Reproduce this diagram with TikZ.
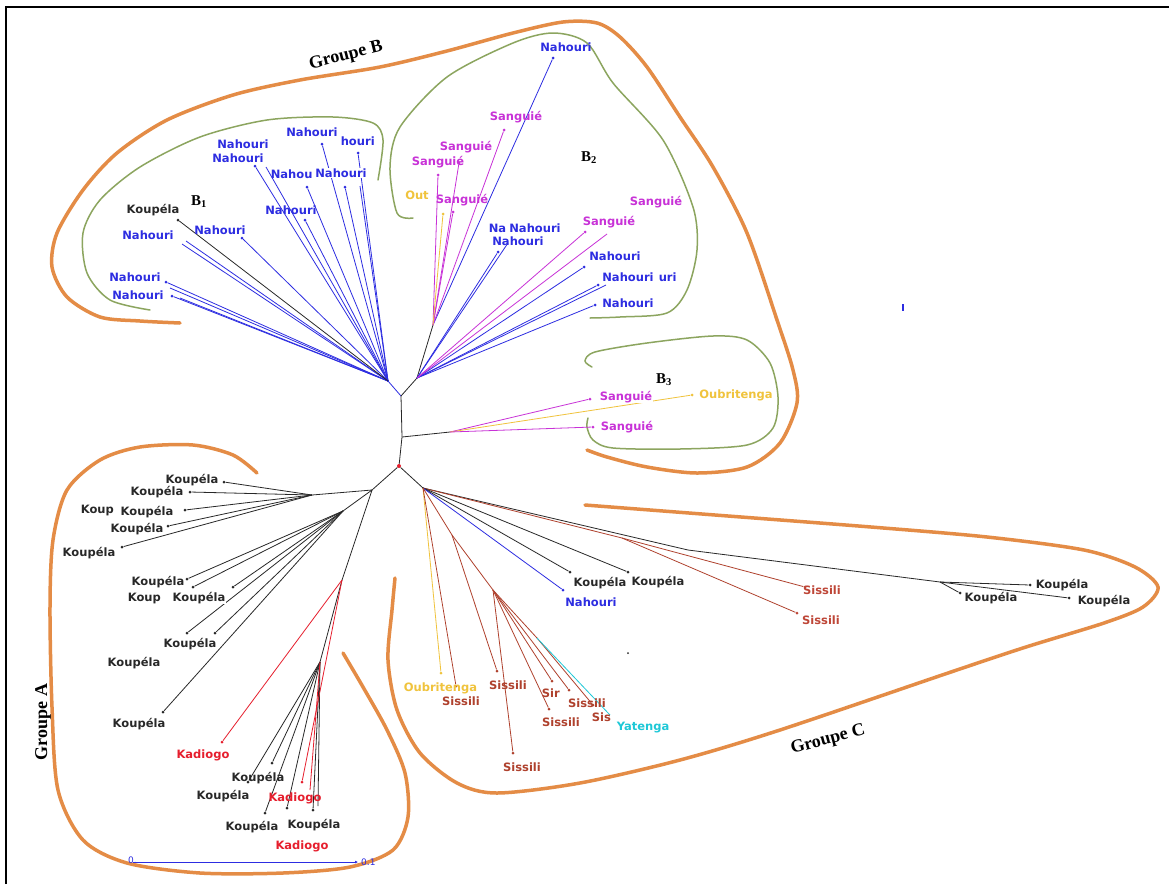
\documentclass[tikz,border=0pt]{standalone}
\usepackage{fontspec}
\setmainfont{Liberation Serif}
\newfontfamily\labfam{DejaVu Sans}
\usetikzlibrary{arrows.meta}
\definecolor{cBlue}{RGB}{45,45,225}
\definecolor{cPink}{RGB}{200,50,215}
\definecolor{cYel}{RGB}{240,195,60}
\definecolor{cRed}{RGB}{230,30,45}
\definecolor{cBrown}{RGB}{175,65,45}
\definecolor{cSis}{RGB}{190,70,55}
\definecolor{cCyan}{RGB}{30,200,215}
\definecolor{cOrange}{RGB}{228,140,70}
\definecolor{cGreen}{RGB}{140,165,95}
\definecolor{cGrey}{RGB}{40,40,40}
\tikzset{
  lab/.style={font=\labfam\bfseries\fontsize{11.5}{12}\selectfont, inner sep=0.6pt},
  wlab/.style={lab, fill=white},
  blab/.style={font=\bfseries\fontsize{15}{16}\selectfont, inner sep=0pt},
  glab/.style={font=\bfseries\fontsize{18}{19}\selectfont, inner sep=0pt},
  br/.style={line width=0.8pt},
  kbr/.style={br, draw=cGrey},
  bbr/.style={br, draw=cBlue},
  pbr/.style={br, draw=cPink},
  ybr/.style={br, draw=cYel},
  rbr/.style={br, draw=cRed},
  sbr/.style={br, draw=cBrown},
  cbr/.style={br, draw=cCyan},
  dot/.style={circle, fill, inner sep=0pt, minimum size=3pt},
  orng/.style={draw=cOrange, line width=3.5pt, line cap=round},
  grn/.style={draw=cGreen, line width=1.5pt, line cap=round},
  sblab/.style={font=\labfam\fontsize{9}{9}\selectfont, text=cBlue, anchor=west, inner sep=0pt},
}
\begin{document}
\begin{tikzpicture}[x=1pt,y=-1pt]
\useasboundingbox (0,0) rectangle (1169,884);
\fill[white] (0,0) rectangle (1169,884);
\draw[line width=2pt] (6,884) -- (6,7) -- (1169,7);

% ---------- outlines ----------
\draw[orng] plot[smooth] coordinates {(180,323) (140,321) (100,317) (67,297) (52,267) (57,233) (83,190) (117,153) (167,120) (233,95) (300,80) (380,67) (447,51) (513,33) (563,22) (597,23) (620,37) (647,67) (680,117) (713,167) (747,233) (777,320) (793,370) (797,403) (780,443) (747,467) (697,473) (647,467) (607,457) (587,450)};
\draw[orng] plot[smooth] coordinates {(257,473) (233,455) (193,445) (140,447) (100,460) (67,490) (53,540) (50,607) (52,707) (58,790) (83,840) (127,863) (200,873) (283,873) (350,867) (393,850) (408,817) (405,773) (387,730) (363,687) (343,653)};
\draw[orng] plot[smooth] coordinates {(585,505) (715,515) (871,527) (987,537) (1084,550) (1135,567) (1158,587) (1143,607) (1104,623) (1026,647) (948,673) (780,730) (680,760) (580,783) (497,793) (457,783) (420,753) (397,710) (388,660) (392,610) (395,578)};
\draw[grn] plot[smooth] coordinates {(150,310) (110,300) (87,273) (83,233) (100,200) (140,167) (200,137) (267,120) (333,117) (373,123) (383,140) (378,180)};
\draw[grn] plot[smooth] coordinates {(413,218) (397,213) (390,167) (400,127) (447,77) (513,43) (553,33) (587,43) (613,83) (663,140) (693,207) (697,250) (687,290) (667,313) (620,317) (590,318)};
\draw[grn] plot[smooth] coordinates {(592,367) (585,361) (595,352) (647,343) (713,336) (747,340) (770,363) (778,397) (773,428) (747,445) (680,449) (613,448) (593,440) (587,427) (588,418)};

% ---------- internal nodes ----------
\node[dot,cRed,minimum size=4pt] (root) at (399,466) {};
\coordinate (j1) at (401,396);
\coordinate (j3) at (402,437);
\coordinate (hA) at (372,490);
\coordinate (hC) at (423,488);
\coordinate (hB1) at (388,381);
\coordinate (hB2) at (417,378);
\coordinate (hB2a) at (433,325);
\coordinate (hB3) at (450,432);
\coordinate (hA1) at (312,495);
\coordinate (hA2) at (343,511);
\coordinate (hA3) at (342,580);
\coordinate (hA4) at (320,662);
\coordinate (hC1) at (688,550);
\coordinate (hC2) at (940,582);
\coordinate (hC3) at (622,538);
\coordinate (hC4) at (452,535);
\coordinate (hC5) at (493,590);
\coordinate (hC6) at (537,638);

% ---------- leaves B1 ----------
\node[dot,cBlue] (n1) at (255,166) {};
\coordinate (n2) at (266,167);
\node[dot,cBlue] (n3) at (322,144) {};
\node[dot,cBlue] (n4) at (358,153) {};
\node[dot,cBlue] (n5) at (307,187) {};
\node[dot,cBlue] (n6) at (345,187) {};
\coordinate (n7) at (360,186);
\node[dot,cBlue] (n8) at (305,220) {};
\node[dot,cBlue] (n9) at (242,238) {};
\coordinate (n10) at (182,244);
\coordinate (n10b) at (186,241);
\node[dot,cBlue] (n11) at (166,282) {};
\coordinate (n12) at (170,288);
\node[dot,cBlue] (n13) at (172,296) {};
\coordinate (n14) at (180,298);
\node[dot,cGrey] (k1) at (178,220) {};
% ---------- leaves B2 ----------
\node[dot,cBlue] (t1) at (553,58) {};
\node[dot,cPink] (s1) at (504,130) {};
\node[dot,cPink] (s2) at (459,163) {};
\node[dot,cPink] (s3) at (438,175) {};
\node[dot,cYel] (o1) at (443,214) {};
\node[dot,cPink] (s4) at (453,212) {};
\node[dot,cBlue] (m1) at (498,252) {};
\coordinate (m2) at (508,243);
\node[dot,cPink] (s5) at (585,232) {};
\coordinate (s6) at (607,234);
\node[dot,cBlue] (m3) at (584,267) {};
\node[dot,cBlue] (m4) at (598,285) {};
\coordinate (m5) at (606,285);
\node[dot,cBlue] (m6) at (595,305) {};
% ---------- leaves B3 ----------
\node[dot,cPink] (s7) at (590,399) {};
\node[dot,cYel] (oub) at (692,395) {};
\node[dot,cPink] (s8) at (593,427) {};
% ---------- leaves A ----------
\node[dot,cGrey] (a1) at (224,482) {};
\node[dot,cGrey] (a2) at (190,492) {};
\node[dot,cGrey] (a3) at (185,510) {};
\node[dot,cGrey] (a4) at (168,526) {};
\node[dot,cGrey] (a5) at (122,547) {};
\node[dot,cGrey] (a6) at (187,579) {};
\node[dot,cGrey] (a7) at (193,587) {};
\node[dot,cGrey] (a8) at (233,587) {};
\node[dot,cGrey] (a9) at (187,633) {};
\node[dot,cGrey] (a10) at (215,633) {};
\node[dot,cGrey] (a11) at (163,712) {};
\node[dot,cGrey] (a12) at (272,763) {};
\node[dot,cGrey] (a13) at (248,782) {};
\node[dot,cGrey] (a14) at (265,813) {};
\node[dot,cGrey] (a15) at (287,808) {};
\node[dot,cGrey] (a16) at (313,810) {};
\coordinate (a17) at (318,806);
\node[dot,cRed] (kad1) at (222,742) {};
\node[dot,cRed] (kad2) at (302,782) {};
\coordinate (kad3) at (310,790);
% ---------- leaves C ----------
\node[dot,cGrey] (c1) at (1030,585) {};
\node[dot,cGrey] (c2) at (960,593) {};
\node[dot,cGrey] (c3) at (1069,598) {};
\node[dot,cSis] (si1) at (805,587) {};
\node[dot,cSis] (si2) at (797,613) {};
\node[dot,cGrey] (kc1) at (570,572) {};
\node[dot,cGrey] (kc2) at (628,572) {};
\node[dot,cBlue] (nh) at (563,590) {};
\node[dot,cYel] (ob) at (441,673) {};
\node[dot,cBrown] (si3) at (456,686) {};
\node[dot,cBrown] (si4) at (497,671) {};
\node[dot,cBrown] (si5) at (513,753) {};
\node[dot,cBrown] (si6) at (552,681) {};
\node[dot,cBrown] (si7) at (569,690) {};
\node[dot,cBrown] (si8) at (549,709) {};
\node[dot,cBrown] (si9) at (593,705) {};
\coordinate (yat) at (610,715);

% ---------- branches ----------
\draw[kbr] (j1) -- (j3) -- (root);
\draw[kbr] (root) -- (hA);
\draw[kbr] (root) -- (hC);
\draw[bbr] (j1) -- (hB1);
\foreach \t in {n1,n2,n3,n4,n5,n6,n7,n8,n9,n10,n10b,n11,n12,n13,n14} \draw[bbr] (hB1) -- (\t);
\draw[kbr] (hB1) -- (k1);
\draw[kbr] (j1) -- (hB2) -- (hB2a);
\draw[bbr] (hB2a) -- (t1);
\foreach \t in {s1,s2,s3,s4} \draw[pbr] (hB2a) -- (\t);
\draw[ybr] (hB2a) -- (o1);
\foreach \t in {m1,m2,m3,m4,m5,m6} \draw[bbr] (hB2) -- (\t);
\foreach \t in {s5,s6} \draw[pbr] (hB2) -- (\t);
\draw[kbr] (j3) -- (hB3);
\draw[pbr] (hB3) -- (s7);
\draw[ybr] (hB3) -- (oub);
\draw[pbr] (hB3) -- (s8);
% A
\draw[kbr] (hA) -- (hA1);
\draw[kbr] (hA) -- (hA2);
\draw[kbr] (hA) -- (hA3) -- (hA4);
\foreach \t in {a1,a2,a3,a4,a5} \draw[kbr] (hA1) -- (\t);
\foreach \t in {a6,a7,a8,a9,a10,a11} \draw[kbr] (hA2) -- (\t);
\foreach \t in {a12,a13,a14,a15,a16,a17} \draw[kbr] (hA4) -- (\t);
\draw[rbr] (hA3) -- (kad1);
\draw[rbr] (hA3) -- (kad2);
\draw[rbr] (hA4) -- (kad3);
% C
\draw[kbr] (hC) -- (hC1) -- (hC2);
\foreach \t in {c1,c2,c3} \draw[kbr] (hC2) -- (\t);
\draw[sbr] (hC) -- (hC3);
\draw[sbr] (hC3) -- (si1);
\draw[sbr] (hC3) -- (si2);
\draw[kbr] (hC) -- (kc1);
\draw[kbr] (hC) -- (kc2);
\draw[bbr] (hC) -- (nh);
\draw[ybr] (hC) -- (ob);
\draw[sbr] (hC) -- (si3);
\draw[sbr] (hC) -- (hC4) -- (hC5) -- (hC6);
\draw[sbr] (hC4) -- (si4);
\foreach \t in {si5,si6,si7,si8} \draw[sbr] (hC5) -- (\t);
\draw[sbr] (hC6) -- (si9);
\draw[cbr] (hC6) -- (yat);

% ---------- labels B1 ----------
\node[lab,text=cBlue] (L1b) at (243,144) {Nahouri};
\node[wlab,text=cBlue] (L1) at (238,158) {Nahouri};
\node[lab,text=cBlue,anchor=west] (L2b) at (340,141) {houri};
\node[wlab,text=cBlue] (L2) at (312,132) {Nahouri};
\node[lab,text=cBlue,anchor=west] (L3b) at (270,174) {Nahou};
\node[wlab,text=cBlue] (L3) at (341,173) {Nahouri};
\node[lab,text=cBlue] (L4) at (291,210) {Nahouri};
\node[lab,text=cBlue] (L5) at (220,230) {Nahouri};
\node[lab,text=cBlue] (L6) at (148,235) {Nahouri};
\node[lab,text=cBlue] (L7) at (135,277) {Nahouri};
\node[lab,text=cBlue] (L8) at (138,295) {Nahouri};
\node[lab,text=cGrey] (L9) at (153,210) {Koupéla};
% ---------- labels B2 ----------
\node[lab,text=cBlue] (M1) at (566,47) {Nahouri};
\node[lab,text=cPink] (M2) at (516,117) {Sanguié};
\node[lab,text=cPink] (M3) at (466,147) {Sanguié};
\node[lab,text=cPink] (M4) at (438,162) {Sanguié};
\node[lab,text=cYel] (M5) at (417,195) {Out};
\node[lab,text=cPink] (M6) at (462,200) {Sanguié};
\node[lab,text=cBlue,anchor=west] (M7b) at (488,228) {Na};
\node[wlab,text=cBlue] (M7) at (535,228) {Nahouri};
\node[lab,text=cBlue] (M8) at (518,241) {Nahouri};
\node[lab,text=cPink] (M9) at (656,202) {Sanguié};
\node[lab,text=cPink] (M10) at (609,222) {Sanguié};
\node[lab,text=cBlue] (M11) at (615,256) {Nahouri};
\node[lab,text=cBlue,anchor=west] (M12b) at (658,277) {uri};
\node[wlab,text=cBlue] (M12) at (628,277) {Nahouri};
\node[lab,text=cBlue] (M13) at (628,303) {Nahouri};
% ---------- labels B3 ----------
\node[wlab,text=cPink] (N1) at (626,397) {Sanguié};
\node[lab,text=cYel] (N2) at (736,395) {Oubritenga};
\node[lab,text=cPink] (N3) at (627,427) {Sanguié};
% ---------- labels A ----------
\node[lab,text=cGrey] (A1) at (192,480) {Koupéla};
\node[wlab,text=cGrey] (A2) at (157,492) {Koupéla};
\node[lab,text=cGrey,anchor=west] (A3b) at (80,510) {Koup};
\node[wlab,text=cGrey] (A3) at (147,512) {Koupéla};
\node[lab,text=cGrey] (A4) at (137,529) {Koupéla};
\node[lab,text=cGrey] (A5) at (89,553) {Koupéla};
\node[lab,text=cGrey] (A6c) at (158,582) {Koupéla};
\node[lab,text=cGrey,anchor=west] (A6b) at (127,598) {Koup};
\node[wlab,text=cGrey] (A6) at (199,598) {Koupéla};
\node[lab,text=cGrey] (A7) at (190,644) {Koupéla};
\node[lab,text=cGrey] (A8) at (134,663) {Koupéla};
\node[lab,text=cGrey] (A9) at (139,724) {Koupéla};
\node[lab,text=cRed] (A10) at (203,755) {Kadiogo};
\node[lab,text=cGrey] (A11) at (258,778) {Koupéla};
\node[lab,text=cGrey] (A12) at (223,796) {Koupéla};
\node[lab,text=cRed] (A13) at (295,798) {Kadiogo};
\node[lab,text=cGrey] (A14) at (252,827) {Koupéla};
\node[lab,text=cGrey] (A15) at (314,825) {Koupéla};
\node[lab,text=cRed] (A16) at (302,846) {Kadiogo};
% ---------- labels C ----------
\node[lab,text=cGrey] (C2) at (658,582) {Koupéla};
\node[wlab,text=cGrey] (C1) at (600,583) {Koupéla};
\node[lab,text=cBlue] (C3) at (591,602) {Nahouri};
\node[lab,text=cSis] (C4) at (822,590) {Sissili};
\node[lab,text=cSis] (C5) at (821,620) {Sissili};
\node[lab,text=cGrey] (C6) at (1062,585) {Koupéla};
\node[wlab,text=cGrey] (C7) at (991,598) {Koupéla};
\node[lab,text=cGrey] (C8) at (1104,601) {Koupéla};
\node[lab,text=cYel,anchor=west] (C9) at (403,688) {Oubritenga};
\node[lab,text=cBrown] (C10) at (461,701) {Sissili};
\node[lab,text=cBrown] (C11) at (508,685) {Sissili};
\node[lab,text=cBrown,anchor=west] (C12b) at (541,693) {Sir};
\node[lab,text=cBrown] (C12) at (587,703) {Sissili};
\node[lab,text=cBrown] (C13) at (561,722) {Sissili};
\node[lab,text=cBrown,anchor=west] (C14b) at (591,717) {Sis};
\node[wlab,text=cCyan] (C14) at (643,728) {Yatenga};
\node[lab,text=cBrown] (C15) at (522,767) {Sissili};

% ---------- group labels ----------
\node[blab] (B1) at (199,202) {B\textsubscript{1}};
\node[blab] (B2) at (589,158) {B\textsubscript{2}};
\node[blab] (B3) at (664,380) {B\textsubscript{3}};
\node[glab,rotate=14] (GB) at (346,56) {Groupe B};
\node[glab,rotate=90] (GA) at (43,722) {Groupe A};
\node[glab,rotate=15] (GC) at (828,740) {Groupe C};

% ---------- scale bar & marks ----------
\coordinate (sb1) at (133,862);
\coordinate (sb2) at (358,862);
\draw[bbr,-{Latex[length=3pt,width=3pt]}] (sb1) -- (sb2);
\node[sblab] (sbl) at (128,860) {0.};
\node[sblab] (sbr) at (361,862) {0.1};
\draw[cBlue, line width=1.5pt] (903,304) -- (903,311);
\fill[cGrey] (628,653) circle (1pt);
\end{tikzpicture}
\end{document}
